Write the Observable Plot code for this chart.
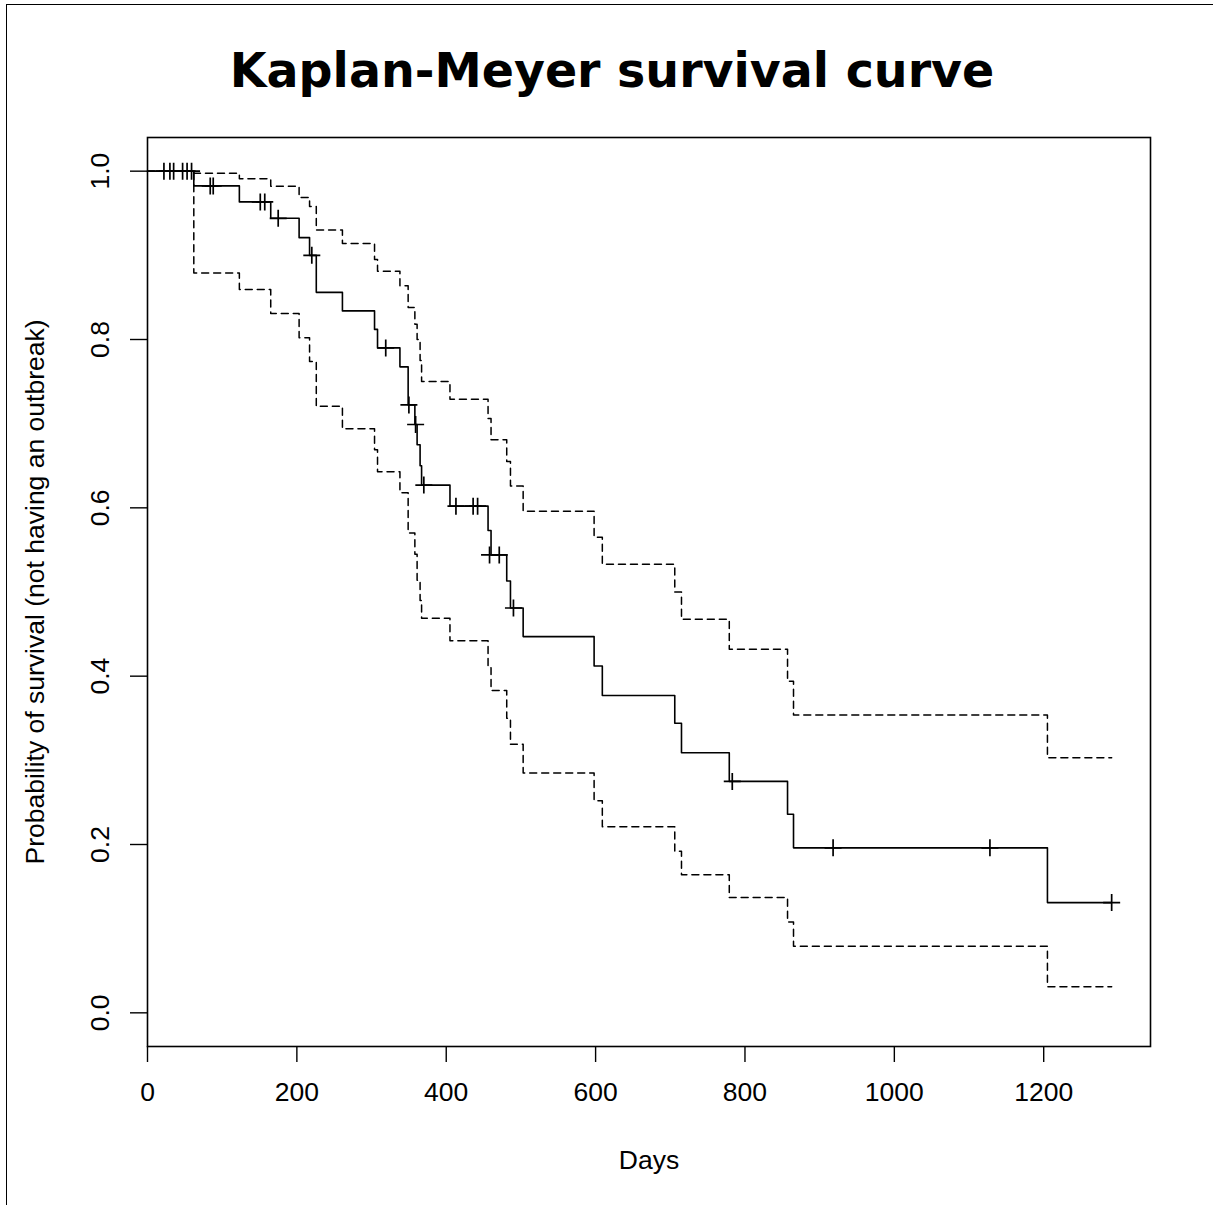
<!DOCTYPE html>
<html>
<head>
<meta charset="utf-8">
<script src="https://cdn.jsdelivr.net/npm/d3@7"></script>
<script src="https://cdn.jsdelivr.net/npm/@observablehq/plot@0.6"></script>
<style>
  html, body { margin: 0; padding: 0; background: white; }
  #page { position: relative; width: 1213px; height: 1205px; overflow: hidden; background: white; font-family: "Liberation Sans", Arial, sans-serif; }
  #frame { position: absolute; z-index: 5; left: 6px; top: 4px; width: 1300px; height: 1300px; border-left: 1.5px solid #000; border-top: 1.5px solid #000; box-sizing: border-box; pointer-events: none; }
  #title { position: absolute; left: 11px; width: 1202px; top: 47px; text-align: center; font-family: "DejaVu Sans", sans-serif; font-weight: bold; font-size: 47.5px; line-height: 48px; color: #000; white-space: nowrap; }
  #chart { position: absolute; left: 0; top: 120px; }
</style>
</head>
<body>
<div id="page">
  <div id="frame"></div>
  <div id="title">Kaplan-Meyer survival curve</div>
  <div id="chart"></div>
</div>
<script>
// Kaplan-Meier estimate (step function)
const eventTime = [0, 62, 123, 165, 203, 217, 226, 261, 304, 308, 338, 349, 358, 361, 365, 367, 405, 456, 460, 481, 486, 503, 598, 609, 706, 715, 779, 857, 865, 1205, 1291];
const survival  = [1, 0.9825, 0.9635, 0.944, 0.921, 0.900, 0.856, 0.834, 0.812, 0.790, 0.7675, 0.7223, 0.699, 0.675, 0.650, 0.627, 0.602, 0.573, 0.544, 0.513, 0.481, 0.447, 0.412, 0.377, 0.344, 0.309, 0.275, 0.236, 0.196, 0.131, 0.131];
const upperCI   = [1, 0.9976, 0.991, 0.982, 0.9687, 0.958, 0.930, 0.914, 0.895, 0.881, 0.864, 0.838, 0.818, 0.800, 0.775, 0.750, 0.729, 0.706, 0.681, 0.655, 0.626, 0.596, 0.565, 0.533, 0.500, 0.4675, 0.432, 0.394, 0.354, 0.303, 0.303];
const lowerCI   = [1, 0.879, 0.8595, 0.831, 0.802, 0.774, 0.7206, 0.694, 0.669, 0.643, 0.618, 0.570, 0.545, 0.514, 0.490, 0.4687, 0.442, 0.410, 0.383, 0.350, 0.319, 0.285, 0.252, 0.221, 0.192, 0.164, 0.137, 0.108, 0.079, 0.031, 0.031];

// Censored observations (+ marks)
const censorTime = [22, 30, 35, 47, 53, 59, 84, 88, 151, 157, 175, 220, 319, 350, 359, 370, 413, 436, 442, 458, 471, 490, 783, 918, 1128, 1291];
const censorSurv = [1, 1, 1, 1, 1, 1, 0.9825, 0.9825, 0.9635, 0.9635, 0.944, 0.900, 0.790, 0.7223, 0.699, 0.627, 0.602, 0.602, 0.602, 0.544, 0.544, 0.481, 0.275, 0.196, 0.196, 0.131];

const xTicks = [0, 200, 400, 600, 800, 1000, 1200];
const yTicks = [0, 0.2, 0.4, 0.6, 0.8, 1.0];
const xLabel = "Days";
const yLabel = "Probability of survival (not having an outbreak)";

const km = eventTime.map((t, i) => ({t, s: survival[i], lo: lowerCI[i], hi: upperCI[i]}));
const censored = censorTime.map((t, i) => ({t, s: censorSurv[i]}));

const plusSymbol = {
  draw(ctx, size) {
    const r = Math.sqrt(size / Math.PI);
    ctx.moveTo(-r, 0); ctx.lineTo(r, 0);
    ctx.moveTo(0, -r); ctx.lineTo(0, r);
  }
};

const FS = 26.5;

const chart = Plot.plot({
  width: 1213,
  height: 1085,
  marginLeft: 147,
  marginRight: 63,
  marginTop: 17,
  marginBottom: 159,
  style: {fontFamily: "Liberation Sans, Arial, sans-serif", fontSize: FS + "px", background: "transparent", color: "black", overflow: "visible"},
  x: {domain: [0, 1343]},
  y: {domain: [-0.04, 1.04]},
  marks: [
    Plot.line(km, {x: "t", y: "hi", curve: "step-after", stroke: "black", strokeWidth: 1.5, strokeDasharray: "7,5"}),
    Plot.line(km, {x: "t", y: "lo", curve: "step-after", stroke: "black", strokeWidth: 1.5, strokeDasharray: "7,5"}),
    Plot.line(km, {x: "t", y: "s", curve: "step-after", stroke: "black", strokeWidth: 1.6}),
    Plot.dot(censored, {x: "t", y: "s", symbol: plusSymbol, r: 8.5, stroke: "black", fill: "none", strokeWidth: 1.7}),
    Plot.frame({stroke: "black", strokeWidth: 1.6}),
    Plot.axisX({ticks: xTicks, tickFormat: d3.format("d"), tickSize: 16, tickPadding: 20, label: null, fontSize: FS, strokeWidth: 1.4}),
    Plot.axisY({ticks: yTicks, tickSize: 17, tickFormat: () => "", label: null, strokeWidth: 1.4}),
    Plot.text(yTicks, {y: d => d, text: d => d3.format(".1f")(d), frameAnchor: "left", dx: -47, rotate: -90, textAnchor: "middle", lineAnchor: "middle", fontSize: FS, fill: "black"}),
    Plot.text([yLabel], {text: d => d, frameAnchor: "left", dx: -112, rotate: -90, textAnchor: "middle", lineAnchor: "middle", fontSize: FS, fill: "black"}),
    Plot.text([xLabel], {text: d => d, frameAnchor: "bottom", dy: 114, textAnchor: "middle", lineAnchor: "middle", fontSize: FS, fill: "black"})
  ]
});
document.getElementById("chart").appendChild(chart);
</script>
</body>
</html>
